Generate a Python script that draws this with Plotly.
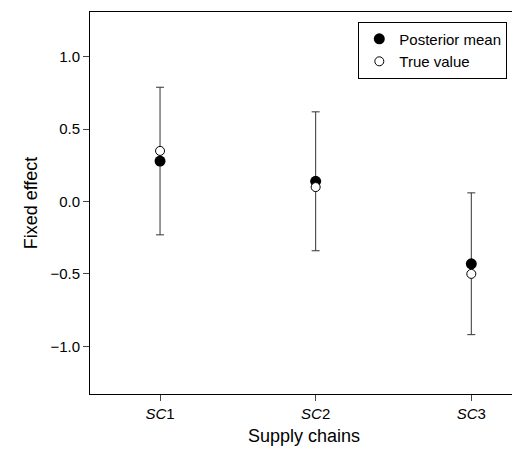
import plotly.graph_objects as go

categories = [1, 2, 3]
tick_labels = ["<i>SC</i>1", "<i>SC</i>2", "<i>SC</i>3"]
posterior_mean = [0.28, 0.14, -0.43]
true_value = [0.35, 0.10, -0.50]
ci_low = [-0.23, -0.34, -0.92]
ci_high = [0.79, 0.62, 0.06]

fig = go.Figure()
fig.add_trace(go.Scatter(
    x=categories, y=posterior_mean, mode="markers", name="Posterior mean",
    marker=dict(color="black", size=11),
    error_y=dict(type="data", symmetric=False,
                 array=[h - m for h, m in zip(ci_high, posterior_mean)],
                 arrayminus=[m - l for m, l in zip(posterior_mean, ci_low)],
                 color="#333", thickness=1, width=4)))
fig.add_trace(go.Scatter(
    x=categories, y=true_value, mode="markers", name="True value",
    marker=dict(color="white", size=9, line=dict(color="black", width=1))))

fig.update_layout(
    width=520, height=450, plot_bgcolor="white", paper_bgcolor="white",
    margin=dict(l=82, r=10, t=4, b=64, pad=0),
    font=dict(family="Liberation Sans, Arial", size=15, color="black"),
    legend=dict(x=0.975, y=0.975, xanchor="right", yanchor="top",
                bordercolor="black", borderwidth=1, font=dict(size=15)),
    xaxis=dict(range=[0.55, 3.3], tickvals=categories, ticktext=tick_labels,
               showgrid=False, zeroline=False, showline=True, mirror=True,
               linecolor="black", ticks="outside", ticklen=6,
               title=dict(text="Supply chains", standoff=8)),
    yaxis=dict(range=[-1.33, 1.31], tickvals=[-1, -0.5, 0, 0.5, 1],
               ticktext=["\u22121.0", "\u22120.5", "0.0", "0.5", "1.0"],
               showgrid=False, zeroline=False, showline=True, mirror=True,
               linecolor="black", ticks="outside", ticklen=6,
               title=dict(text="Fixed effect", standoff=8)),
)
fig.write_html("out.html")
